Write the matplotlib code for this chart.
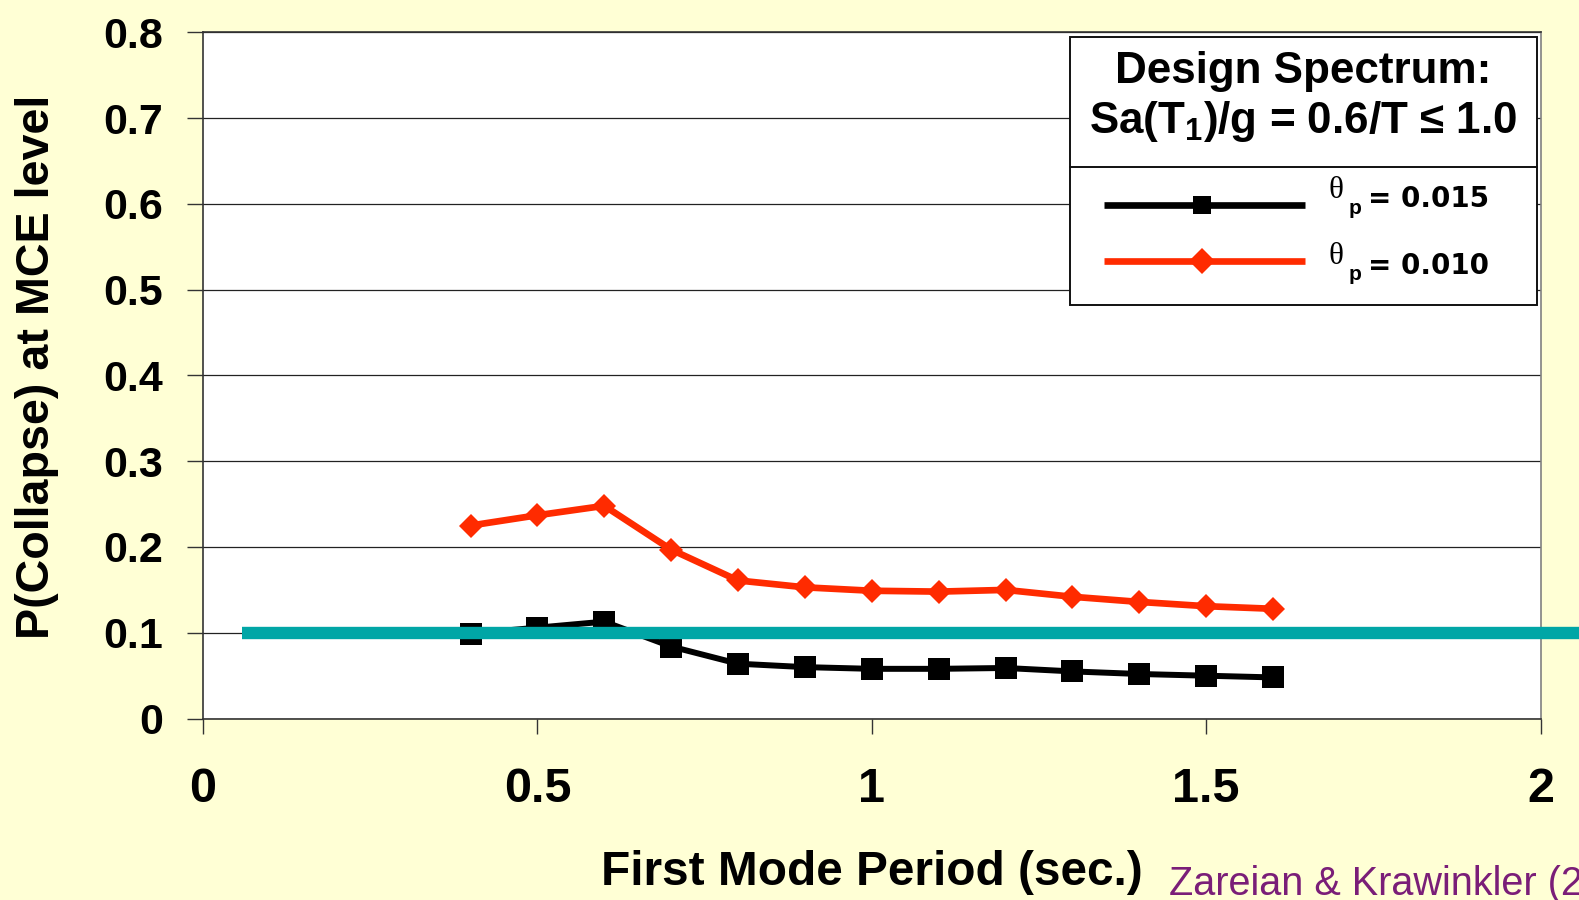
import matplotlib
matplotlib.use("Agg")
import matplotlib.pyplot as plt
from matplotlib.lines import Line2D
from matplotlib.patches import Rectangle

# ---------------- data ----------------
periods = [0.4, 0.5, 0.6, 0.7, 0.8, 0.9, 1.0, 1.1, 1.2, 1.3, 1.4, 1.5, 1.6]
p_collapse_015 = [0.099, 0.106, 0.113, 0.084, 0.064, 0.060, 0.058, 0.058, 0.059, 0.055, 0.052, 0.050, 0.048]
p_collapse_010 = [0.225, 0.237, 0.248, 0.197, 0.161, 0.153, 0.149, 0.148, 0.150, 0.142, 0.136, 0.131, 0.128]
limit_value = 0.1
limit_x = [0.058, 2.15]
x_ticks = [0, 0.5, 1, 1.5, 2]
x_tick_labels = ["0", "0.5", "1", "1.5", "2"]
y_ticks = [0, 0.1, 0.2, 0.3, 0.4, 0.5, 0.6, 0.7, 0.8]
y_tick_labels = ["0", "0.1", "0.2", "0.3", "0.4", "0.5", "0.6", "0.7", "0.8"]
legend_title = ["Design Spectrum:", "Sa(T$_1$)/g = 0.6/T \u2264 1.0"]
legend_values = ["= 0.015", "= 0.010"]
x_label = "First Mode Period (sec.)"
y_label = "P(Collapse) at MCE level"
source = "Zareian & Krawinkler (2007)"

plt.rcParams["mathtext.default"] = "regular"

W, H = 1579, 900
BG = "#FFFFD5"
BLACK = "#000000"
RED = "#FF2B00"
TEAL = "#00A6A6"
PURPLE = "#7A1E78"
ARIAL = "Liberation Sans"

fig = plt.figure(figsize=(W / 100, H / 100), dpi=100, facecolor=BG)

def fx(px):
    return px / W

def fy(py):
    return 1 - py / H

ax = fig.add_axes([fx(203), fy(718.6), fx(1540.5) - fx(203), fy(32.2) - fy(718.6)])
ax.set_facecolor("white")
ax.set_xlim(0, 2)
ax.set_ylim(0, 0.8)

ax.set_xticks(x_ticks)
ax.set_xticklabels(x_tick_labels)
ax.set_yticks(y_ticks)
ax.set_yticklabels(y_tick_labels)
ax.tick_params(axis="x", direction="out", length=11, width=1, color="#333333", pad=24,
               labelsize=35)
ax.tick_params(axis="y", direction="out", length=11.5, width=1, color="#333333", pad=17,
               labelsize=31)
for lab in ax.get_xticklabels() + ax.get_yticklabels():
    lab.set_fontfamily(ARIAL)
    lab.set_fontweight("bold")

ax.yaxis.grid(True, color="#222222", linewidth=0.9)
ax.xaxis.grid(False)
ax.set_axisbelow(True)
for side in ["left", "bottom", "top"]:
    ax.spines[side].set_color("#333333")
    ax.spines[side].set_linewidth(1.2)
ax.spines["right"].set_color("#808080")
ax.spines["right"].set_linewidth(1.2)

ax.plot(periods, p_collapse_015, color=BLACK, linewidth=4.3, marker="s", markersize=16.5,
        markeredgewidth=0, zorder=3)
ax.plot(periods, p_collapse_010, color=RED, linewidth=4.8, marker="D", markersize=12,
        markeredgewidth=0, zorder=3)
ax.plot(limit_x, [limit_value, limit_value], color=TEAL, linewidth=8.9, solid_capstyle="butt",
        clip_on=False, zorder=4)

# axis labels
fig.text(fx(872), fy(885), x_label, ha="center", va="baseline", fontsize=34.4,
         fontweight="bold", family=ARIAL)
fig.text(fx(37), fy(367), y_label, ha="center", va="center", rotation=90, fontsize=33.6,
         fontweight="bold", family=ARIAL)
fig.text(fx(1169), fy(895), source, ha="left", va="baseline", fontsize=28.5,
         color=PURPLE, family=ARIAL)

# legend box
lx0, lx1, ly0, ly1 = 1070, 1537, 37, 305
fig.patches.append(Rectangle((fx(lx0), fy(ly1)), fx(lx1) - fx(lx0), fy(ly0) - fy(ly1),
                             transform=fig.transFigure, facecolor="white",
                             edgecolor="#111111", linewidth=1.4, zorder=5))
fig.lines.append(Line2D([fx(lx0), fx(lx1)], [fy(167), fy(167)], transform=fig.transFigure,
                        color="#111111", linewidth=1.4, zorder=6))
cx = (lx0 + lx1) / 2
fig.text(fx(cx), fy(82.5), legend_title[0], ha="center", va="baseline", fontsize=31.7,
         fontweight="bold", family=ARIAL, zorder=7)
fig.text(fx(cx), fy(133), legend_title[1], ha="center", va="baseline", fontsize=31.7,
         fontweight="bold", family=ARIAL, zorder=7)

entry_colors = [BLACK, RED]
entry_markers = ["s", "D"]
entry_msize = [13, 13.4]
entry_line_y = [205, 261]
entry_text_base = [207, 273.5]
for i in range(2):
    y = entry_line_y[i]
    fig.lines.append(Line2D([fx(1104), fx(1305)], [fy(y), fy(y)], transform=fig.transFigure,
                            color=entry_colors[i], linewidth=4.8, solid_capstyle="butt",
                            zorder=7))
    fig.lines.append(Line2D([fx(1202)], [fy(y)], transform=fig.transFigure,
                            color=entry_colors[i], marker=entry_markers[i],
                            markersize=entry_msize[i], markeredgewidth=0, linestyle="none",
                            zorder=8))
    b = entry_text_base[i]
    fig.text(fx(1328), fy(b - 9), "\u03b8", ha="left", va="baseline", fontsize=22.5,
             family="Liberation Serif", zorder=8)
    fig.text(fx(1349), fy(b + 7), "p", ha="left", va="baseline", fontsize=15,
             fontweight="bold", family=ARIAL, zorder=8)
    fig.text(fx(1368), fy(b), legend_values[i], ha="left", va="baseline", fontsize=20,
             fontweight="bold", family="DejaVu Sans", zorder=8)

fig.savefig("out.png", dpi=100, facecolor=BG)
